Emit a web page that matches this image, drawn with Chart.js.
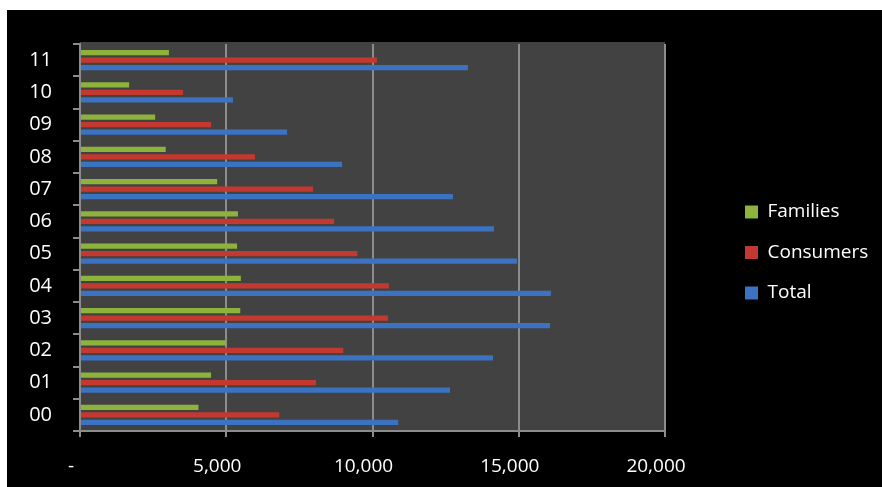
<!DOCTYPE html>
<html>
<head>
<meta charset="utf-8">
<script src="https://cdn.jsdelivr.net/npm/chart.js@4.4.1/dist/chart.umd.min.js"></script>
<style>
  html, body { margin: 0; padding: 0; background: #fff; }
  #wrap { position: absolute; left: 7px; top: 10px; width: 875px; height: 477px; background: #000; }
</style>
</head>
<body>
<div id="wrap"><canvas id="barChart"></canvas></div>
<script>
// years as shown on the axis (bottom to top)
var years = ['00', '01', '02', '03', '04', '05', '06', '07', '08', '09', '10', '11'];
var families = [4050, 4480, 4990, 5480, 5500, 5370, 5400, 4690, 2930, 2570, 1680, 3040];
var consumers = [6810, 8070, 9000, 10530, 10560, 9480, 8690, 7970, 5980, 4480, 3520, 10150];
var total = [10880, 12650, 14120, 16070, 16100, 14940, 14150, 12750, 8960, 7080, 5230, 13260];
var seriesNames = ['Families', 'Consumers', 'Total'];
var xMax = 20000;
var xStep = 5000;

var font = 'Open Sans';
var gridColor = '#8c8c8c';

// top of the chart is the latest year
function topDown(arr) { return arr.slice().reverse(); }

var barChartData = {
  labels: topDown(years),
  datasets: [
    { label: seriesNames[0], backgroundColor: '#8DB33C', data: topDown(families) },
    { label: seriesNames[1], backgroundColor: '#C4392F', data: topDown(consumers) },
    { label: seriesNames[2], backgroundColor: '#3B73C2', data: topDown(total) }
  ]
};

var backWall = {
  id: 'backWall',
  beforeDraw: function (chart) {
    var a = chart.chartArea;
    var ctx = chart.ctx;
    ctx.save();
    ctx.fillStyle = '#424242';
    ctx.fillRect(a.left, a.top - 2, a.right - a.left, a.bottom - a.top + 2);
    ctx.restore();
  },
  afterLayout: function (chart) {
    // move the legend out to the right of the plot
    var lg = chart.legend;
    var pad = lg.options.labels.padding;
    var colH = lg.columnSizes && lg.columnSizes[0] ? lg.columnSizes[0].height : 120;
    lg.left = 738 - pad;
    lg.right = lg.left + lg.width;
    lg.top = 192.5 - pad;
    lg.bottom = lg.top + colH + pad;
    lg.height = lg.bottom - lg.top;
  }
};

new Chart(document.getElementById('barChart').getContext('2d'), {
  type: 'bar',
  data: barChartData,
  options: {
    indexAxis: 'y',
    responsive: true,
    maintainAspectRatio: false,
    animation: false,
    layout: { padding: { left: 0, right: 217, top: 34, bottom: 0 } },
    datasets: {
      bar: { barPercentage: 0.72, categoryPercentage: 0.70, borderWidth: 0 }
    },
    plugins: {
      legend: {
        position: 'chartArea',
        labels: {
          color: '#fff',
          font: { family: font, size: 19 },
          boxWidth: 13,
          boxHeight: 13,
          padding: 21.5
        }
      },
      tooltip: { enabled: false }
    },
    scales: {
      x: {
        min: 0,
        max: xMax,
        afterFit: function (scale) { scale.height = 56; },
        grid: { color: gridColor, lineWidth: 2, tickLength: 6 },
        border: { color: gridColor, width: 2 },
        ticks: {
          stepSize: xStep,
          color: '#fff',
          font: { family: font, size: 19 },
          padding: 18,
          labelOffset: -9,
          callback: function (v) { return v === 0 ? '-' : v.toLocaleString('en-US'); }
        }
      },
      y: {
        afterFit: function (scale) { scale.width = 73; },
        grid: { drawOnChartArea: false, offset: true, color: gridColor, lineWidth: 2, tickLength: 7 },
        border: { color: gridColor, width: 2 },
        ticks: { color: '#fff', font: { family: font, size: 20 }, padding: 21 }
      }
    }
  },
  plugins: [backWall]
});
</script>
</body>
</html>
